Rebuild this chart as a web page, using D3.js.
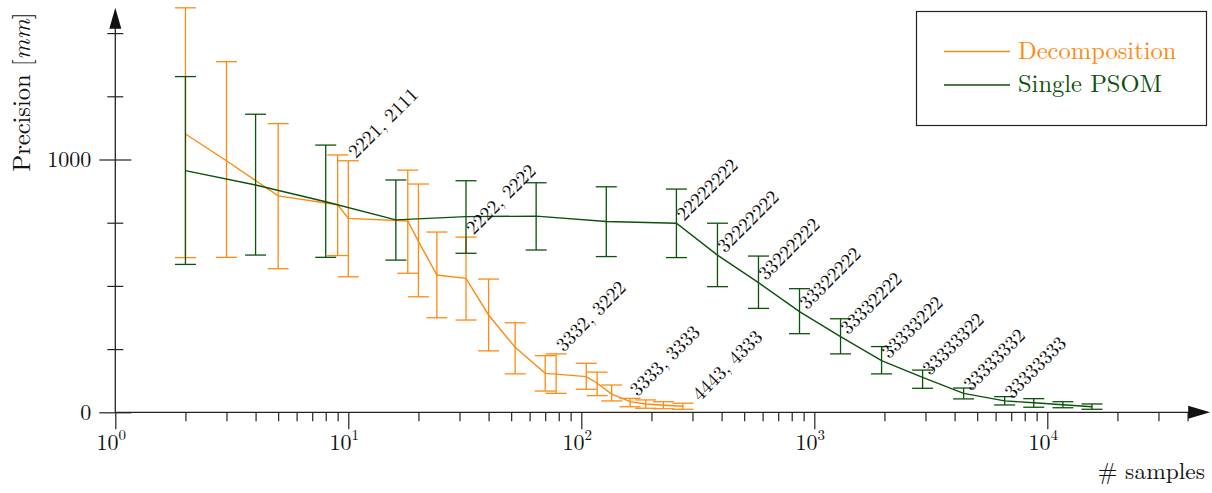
<!DOCTYPE html>
<meta charset="utf-8">
<head>
<title>Precision vs samples</title>
<script src="https://d3js.org/d3.v7.min.js"></script>
<style>
  body { margin: 0; background: #fff; }
  svg { display: block; }
  text { font-family: "Latin Modern Roman", "CMU Serif", "Liberation Serif", serif; fill: #111; }
  .axis line { stroke: #222; stroke-width: 1.2; }
  .axis text { display: none; }
</style>
</head>
<body>
<script>

// ---- data ----
// Decomposition (orange): samples, mean, upper and lower end of the error bar
var decompX    = [2, 3, 5, 9, 10, 18, 20, 24, 32, 40, 52, 70, 78, 105, 117, 135, 162, 189, 225, 273];
var decompMean = [1101, 995, 856, 821, 767, 757, 676, 543, 530, 385, 257, 154, 151, 141, 115, 72, 42, 33, 28, 24];
var decompHi   = [1600, 1387, 1142, 1018, 995, 958, 903, 713, 693, 527, 354, 224, 231, 194, 159, 108, 55, 49, 42, 36];
var decompLo   = [612, 613, 568, 620, 536, 550, 457, 374, 365, 243, 152, 84, 75, 91, 66, 45, 22, 16, 14, 12];

// Single PSOM (green)
var psomX    = [2, 4, 8, 16, 32, 64, 128, 256, 384, 576, 864, 1296, 1944, 2916, 4374, 6561, 8748, 11664, 15552];
var psomMean = [956, 899, 833, 761, 774, 776, 755, 748, 622, 513, 398, 299, 204, 138, 75, 45, 38, 30, 22];
var psomHi   = [1328, 1179, 1057, 919, 916, 908, 892, 883, 748, 618, 489, 370, 260, 167, 96, 62, 54, 42, 33];
var psomLo   = [585, 622, 613, 602, 629, 642, 616, 612, 497, 411, 311, 231, 152, 95, 53, 29, 20, 18, 12];

// annotations
var decompLabels  = ["2221, 2111", "2222, 2222", "3332, 3222", "3333, 3333", "4443, 4333"];
var decompLabelX  = [10, 32, 78, 162, 300];
var decompLabelY  = [995, 693, 231, 55, 36];
var psomLabels = ["22222222", "32222222", "33222222", "33322222", "33332222",
                  "33333222", "33333322", "33333332", "33333333"];
var psomLabelIdx = [7, 8, 9, 10, 11, 12, 13, 14, 15];

// ticks
var xMajor = [1, 10, 100, 1000, 10000];
var xExp   = ["0", "1", "2", "3", "4"];
var yMajor = [0, 1000];
var yMinor = [250, 500, 750, 1250, 1500];

var orange = "#ff8a12",
    green  = "#0b520b";

var width = 1212, height = 493;
var xMax = 50000, yMax = 1600;

// scales
var x = d3.scaleLog().domain([1, 10000]).range([115.3, 1047.3]);
var y = d3.scaleLinear().domain([0, 1000]).range([412.3, 159.5]);

var svg = d3.select("body").append("svg")
    .attr("width", width)
    .attr("height", height);

// minor x ticks (2..9 per decade)
var xMinor = [];
xMajor.forEach(function(d) {
  for (var m = 2; m <= 9; m++) if (d * m < xMax) xMinor.push(d * m);
});

svg.append("g")
    .attr("class", "axis")
    .attr("transform", "translate(0," + y(0) + ")")
    .call(d3.axisBottom(x).tickValues(xMinor).tickSize(9).tickFormat(""))
    .call(function(g) { g.select(".domain").remove(); });

svg.append("g")
    .attr("class", "axis")
    .attr("transform", "translate(0," + y(0) + ")")
    .call(d3.axisBottom(x).tickValues(xMajor).tickSize(17).tickFormat(""))
    .call(function(g) { g.select(".domain").remove(); });

// y ticks are drawn across the axis line
[[yMinor, 8], [yMajor, 16]].forEach(function(t) {
  svg.append("g")
      .attr("class", "axis")
      .attr("transform", "translate(" + x(1) + ",0)")
      .call(d3.axisLeft(y).tickValues(t[0]).tickSize(t[1]).tickFormat(""))
      .call(function(g) { g.select(".domain").remove(); });
  svg.append("g")
      .attr("class", "axis")
      .attr("transform", "translate(" + x(1) + ",0)")
      .call(d3.axisRight(y).tickValues(t[0]).tickSize(t[1]).tickFormat(""))
      .call(function(g) { g.select(".domain").remove(); });
});

// axis lines with arrow heads
svg.append("line")
    .attr("x1", x(1)).attr("x2", x(xMax) - 6)
    .attr("y1", y(0)).attr("y2", y(0))
    .attr("stroke", "#222").attr("stroke-width", 1.3);
svg.append("line")
    .attr("x1", x(1)).attr("x2", x(1))
    .attr("y1", y(0)).attr("y2", y(yMax) + 6)
    .attr("stroke", "#222").attr("stroke-width", 1.3);

svg.append("path")
    .attr("d", "M" + x(xMax) + "," + y(0) + "l-22,-6.5l0,13z")
    .attr("fill", "#111");
svg.append("path")
    .attr("d", "M" + x(1) + "," + y(yMax) + "l-6,21l12,0z")
    .attr("fill", "#111");

// tick labels
var xl = svg.append("g").selectAll("text")
    .data(xMajor)
  .enter().append("text")
    .attr("x", function(d) { return x(d) - 4; })
    .attr("y", y(0) + 38)
    .attr("text-anchor", "middle")
    .style("font-size", "22px");
xl.append("tspan").text("10");
xl.append("tspan")
    .attr("dy", -10)
    .style("font-size", "15px")
    .text(function(d, i) { return xExp[i]; });

svg.append("g").selectAll("text")
    .data(yMajor)
  .enter().append("text")
    .attr("x", x(1) - 24)
    .attr("y", function(d) { return y(d); })
    .attr("dy", "0.35em")
    .attr("text-anchor", "end")
    .style("font-size", "22px")
    .text(function(d) { return d; });

// axis titles
svg.append("text")
    .attr("x", 1205)
    .attr("y", 479)
    .attr("text-anchor", "end")
    .style("font-size", "23.5px")
    .text("# samples");

var yt = svg.append("text")
    .attr("transform", "translate(30,92) rotate(-90)")
    .attr("text-anchor", "middle")
    .style("font-size", "24.5px");
yt.append("tspan").text("Precision [");
yt.append("tspan").style("font-style", "italic").text("mm");
yt.append("tspan").text("]");

// series: error bars + line
function drawSeries(xs, mean, hi, lo, color) {
  var g = svg.append("g");
  var capW = 10.5;
  var bars = g.selectAll(".bar")
      .data(xs)
    .enter().append("g");
  bars.append("line")
      .attr("x1", function(d) { return x(d); })
      .attr("x2", function(d) { return x(d); })
      .attr("y1", function(d, i) { return y(hi[i]); })
      .attr("y2", function(d, i) { return y(lo[i]); });
  bars.append("line")
      .attr("x1", function(d) { return x(d) - capW; })
      .attr("x2", function(d) { return x(d) + capW; })
      .attr("y1", function(d, i) { return y(hi[i]); })
      .attr("y2", function(d, i) { return y(hi[i]); });
  bars.append("line")
      .attr("x1", function(d) { return x(d) - capW; })
      .attr("x2", function(d) { return x(d) + capW; })
      .attr("y1", function(d, i) { return y(lo[i]); })
      .attr("y2", function(d, i) { return y(lo[i]); });
  bars.selectAll("line")
      .attr("stroke", color)
      .attr("stroke-width", 1.3);

  var line = d3.line()
      .x(function(d) { return x(d); })
      .y(function(d, i) { return y(mean[i]); });
  g.append("path")
      .datum(xs)
      .attr("d", line)
      .attr("fill", "none")
      .attr("stroke", color)
      .attr("stroke-width", 1.4);
}

drawSeries(decompX, decompMean, decompHi, decompLo, orange);
drawSeries(psomX, psomMean, psomHi, psomLo, green);

// rotated annotations
function label(text, px, py) {
  svg.append("text")
      .attr("transform", "translate(" + (px + 7.5) + "," + (py - 1.5) + ") rotate(-45)")
      .style("font-size", "19.5px")
      .text(text);
}
decompLabels.forEach(function(t, i) { label(t, x(decompLabelX[i]), y(decompLabelY[i])); });
psomLabels.forEach(function(t, i) {
  var k = psomLabelIdx[i];
  label(t, x(psomX[k]), y(psomMean[k]));
});

// legend
var leg = svg.append("g");
leg.append("rect")
    .attr("x", 916.5).attr("y", 11.5)
    .attr("width", 290).attr("height", 114)
    .attr("fill", "#fff")
    .attr("stroke", "#222")
    .attr("stroke-width", 1.2);
[["Decomposition", orange, 51.5], ["Single PSOM", green, 85]].forEach(function(e) {
  leg.append("line")
      .attr("x1", 944).attr("x2", 1010)
      .attr("y1", e[2]).attr("y2", e[2])
      .attr("stroke", e[1]).attr("stroke-width", 1.4);
  leg.append("text")
      .attr("x", 1018).attr("y", e[2] + 7)
      .style("font-size", "24.5px")
      .style("fill", e[1])
      .text(e[0]);
});

</script>
</body>
